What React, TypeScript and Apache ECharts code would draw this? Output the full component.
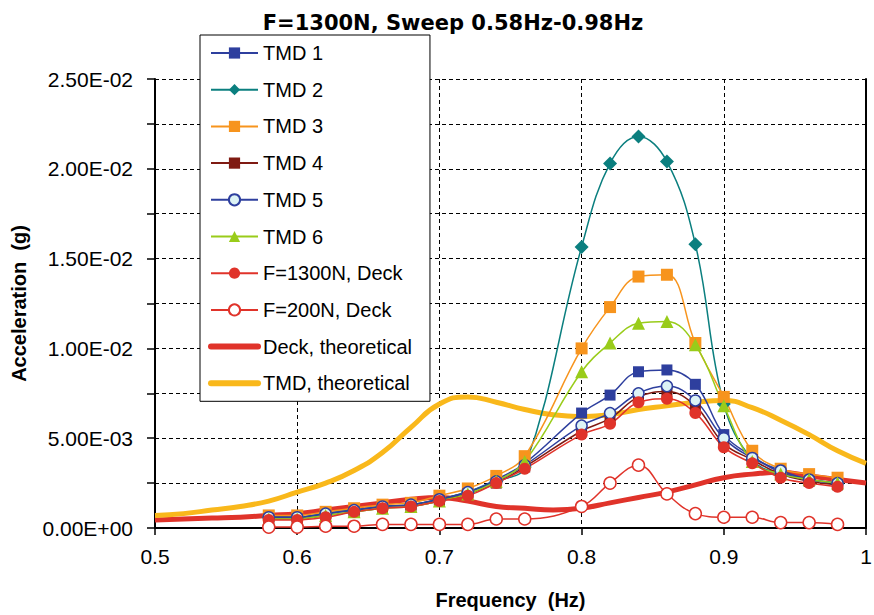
import React, { useEffect, useRef } from "react";
import * as echarts from "echarts";

const freq = [0.58, 0.6, 0.62, 0.64, 0.66, 0.68, 0.7, 0.72, 0.74, 0.76, 0.8, 0.82, 0.84, 0.86, 0.88, 0.9, 0.92, 0.94, 0.96, 0.98];

const tmd1 = [0.0006, 0.0006, 0.0008, 0.001, 0.0012, 0.0013, 0.0016, 0.002, 0.0027, 0.0036, 0.0064, 0.0074, 0.0087, 0.0088, 0.008, 0.0052, 0.004, 0.0031, 0.0027, 0.0025];
const tmd2 = [0.0006, 0.0006, 0.0008, 0.001, 0.0012, 0.0013, 0.0016, 0.002, 0.0026, 0.0034, 0.01565, 0.0203, 0.0218, 0.0204, 0.0158, 0.0069, 0.0038, 0.003, 0.0027, 0.0025];
const tmd3 = [0.0007, 0.0007, 0.0009, 0.0011, 0.0013, 0.0014, 0.0018, 0.0022, 0.0029, 0.004, 0.01, 0.0123, 0.014, 0.0141, 0.0103, 0.0073, 0.0043, 0.0033, 0.003, 0.0028];
const tmd4 = [0.0005, 0.0005, 0.0007, 0.0009, 0.0011, 0.0012, 0.0015, 0.0019, 0.0025, 0.0034, 0.0054, 0.0061, 0.0073, 0.0076, 0.0068, 0.0047, 0.0038, 0.003, 0.0026, 0.0024];
const tmd5 = [0.0006, 0.0006, 0.0008, 0.001, 0.0012, 0.0013, 0.0016, 0.002, 0.0026, 0.0035, 0.0057, 0.0064, 0.0075, 0.0079, 0.0071, 0.005, 0.0039, 0.0032, 0.0027, 0.0025];
const tmd6 = [0.0005, 0.0005, 0.0007, 0.0009, 0.0011, 0.0012, 0.0015, 0.0019, 0.0026, 0.0037, 0.0087, 0.0103, 0.0114, 0.0115, 0.0102, 0.0068, 0.0037, 0.003, 0.0027, 0.0025];
const deck1300 = [0.00045, 0.00045, 0.0006, 0.0009, 0.0011, 0.0012, 0.0015, 0.0018, 0.0025, 0.0033, 0.0052, 0.0058, 0.007, 0.0072, 0.0064, 0.0045, 0.0036, 0.0028, 0.0025, 0.0023];
const deck200 = [0.00005, 0.00005, 0.0001, 0.0001, 0.0002, 0.0002, 0.0002, 0.0002, 0.0005, 0.0005, 0.0012, 0.0025, 0.0035, 0.0019, 0.0008, 0.0006, 0.0006, 0.0003, 0.0003, 0.0002];

const theoFreq = [0.5, 0.52, 0.54, 0.56, 0.58, 0.6, 0.62, 0.64, 0.66, 0.68, 0.7, 0.72, 0.74, 0.76, 0.78, 0.8, 0.82, 0.84, 0.86, 0.88, 0.9, 0.92, 0.94, 0.96, 0.98, 1.0];
const deckTheo = [0.00045, 0.0005, 0.00055, 0.0006, 0.0007, 0.0008, 0.001, 0.0012, 0.0014, 0.0016, 0.0017, 0.0015, 0.0012, 0.0011, 0.001, 0.0011, 0.0014, 0.0017, 0.002, 0.0024, 0.0028, 0.003, 0.0031, 0.0029, 0.0027, 0.0025];
const tmdTheo = [0.0007, 0.0008, 0.001, 0.0012, 0.0015, 0.002, 0.0025, 0.0032, 0.0042, 0.0056, 0.0069, 0.0073, 0.007, 0.0066, 0.0063, 0.0062, 0.0063, 0.0066, 0.0068, 0.007, 0.0071, 0.0067, 0.006, 0.0052, 0.0043, 0.0036];

const seriesNames = ["TMD 1", "TMD 2", "TMD 3", "TMD 4", "TMD 5", "TMD 6", "F=1300N, Deck", "F=200N, Deck", "Deck, theoretical", "TMD, theoretical"];

const FONT = "'Liberation Sans', Arial, sans-serif";
const TITLE_FONT = "'DejaVu Sans', 'Liberation Sans', sans-serif";

function fmtSci(v: number): string {
  if (Math.abs(v) < 1e-12) return "0.00E+00";
  let e = Math.floor(Math.log10(Math.abs(v)) + 1e-9);
  let m = v / Math.pow(10, e);
  if (Math.round(m * 100) >= 1000) { m /= 10; e += 1; }
  const ae = Math.abs(e);
  return m.toFixed(2) + "E" + (e < 0 ? "-" : "+") + (ae < 10 ? "0" : "") + ae;
}

const pair = (xs: number[], ys: number[]) => xs.map((x, i) => [x, ys[i]]);

export default function App() {
  const ref = useRef<HTMLDivElement>(null);
  useEffect(() => {
    if (!ref.current) return;
    const chart = echarts.init(ref.current, undefined, { renderer: "svg" });
    const dataSeries = (name: string, ys: number[], color: string, symbol: string, size: number) => ({
      name,
      type: "line",
      data: pair(freq, ys),
      smooth: 0.4,
      symbol,
      symbolSize: size,
      showSymbol: true,
      lineStyle: { color, width: 1.5 },
      itemStyle: { color },
      z: 3,
    });
    chart.setOption({
      animation: false,
      title: {
        text: "F=1300N, Sweep 0.58Hz-0.98Hz",
        left: 448,
        textAlign: "center",
        top: 7,
        textStyle: { fontFamily: TITLE_FONT, fontSize: 21, fontWeight: "bold", color: "#000" },
      },
      grid: { left: 155, right: 8, top: 79, bottom: 87, outerBoundsMode: "none", containLabel: false },
      legend: {
        orient: "vertical",
        left: 200,
        top: 35,
        itemWidth: 47,
        itemHeight: 14,
        itemGap: 16.7,
        padding: [8, 18, 8, 8],
        backgroundColor: "#fff",
        borderColor: "#000",
        borderWidth: 1,
        textStyle: { fontFamily: FONT, fontSize: 20, color: "#000", lineHeight: 20 },
        z: 10,
        data: seriesNames.map((n, i) =>
          i >= 8 ? { name: n, lineStyle: { width: 6, cap: "round" }, itemStyle: { opacity: 0 } } : { name: n }
        ),
      },
      xAxis: {
        type: "value",
        min: 0.5,
        max: 1.0,
        interval: 0.1,
        name: "Frequency  (Hz)",
        nameLocation: "middle",
        nameGap: 62,
        nameTextStyle: { fontFamily: FONT, fontSize: 20, fontWeight: "bold", color: "#000" },
        axisLine: { lineStyle: { color: "#000", width: 2 } },
        axisTick: { show: true, length: 7, lineStyle: { color: "#000", width: 1.5 } },
        axisLabel: { fontFamily: FONT, fontSize: 21, color: "#000", margin: 18 },
        splitLine: { show: true, lineStyle: { color: "#000", type: [4, 3], width: 1 } },
      },
      yAxis: [
        {
          type: "value",
          min: 0,
          max: 0.025,
          interval: 0.0025,
          name: "Acceleration  (g)",
          nameLocation: "middle",
          nameGap: 126,
          nameRotate: 90,
          nameTextStyle: { fontFamily: FONT, fontSize: 20, fontWeight: "bold", color: "#000" },
          axisLine: { show: true, lineStyle: { color: "#000", width: 2 } },
          axisTick: { show: true, length: 8, lineStyle: { color: "#000", width: 1.5 } },
          axisLabel: {
            fontFamily: FONT,
            fontSize: 21,
            color: "#000",
            margin: 22,
            formatter: (v: number) => (Math.round(v / 0.0025) % 2 === 0 ? fmtSci(v) : ""),
          },
          splitLine: { show: true, lineStyle: { color: "#000", type: [4, 3], width: 1 } },
        },
        {
          type: "value",
          position: "right",
          min: 0,
          max: 0.025,
          interval: 0.0025,
          axisLine: { show: true, lineStyle: { color: "#000", width: 2 } },
          axisTick: { show: false },
          axisLabel: { show: false },
          splitLine: { show: false },
        },
      ],
      series: [
        dataSeries(seriesNames[0], tmd1, "#2E3F9E", "rect", 11),
        dataSeries(seriesNames[1], tmd2, "#0B7F7F", "diamond", 14),
        dataSeries(seriesNames[2], tmd3, "#F7941D", "rect", 12),
        dataSeries(seriesNames[3], tmd4, "#7F1A12", "rect", 11),
        {
          ...dataSeries(seriesNames[4], tmd5, "#2E3F9E", "circle", 11),
          itemStyle: { color: "#DDF3F5", borderColor: "#2E3F9E", borderWidth: 1.5 },
        },
        dataSeries(seriesNames[5], tmd6, "#99CC1A", "triangle", 13),
        dataSeries(seriesNames[6], deck1300, "#E0332A", "circle", 12),
        {
          ...dataSeries(seriesNames[7], deck200, "#E0332A", "circle", 12),
          itemStyle: { color: "#fff", borderColor: "#E0332A", borderWidth: 1.5 },
        },
        {
          name: seriesNames[8],
          type: "line",
          data: pair(theoFreq, deckTheo),
          smooth: 0.5,
          symbol: "none",
          lineStyle: { color: "#E0332A", width: 5 },
          itemStyle: { color: "#E0332A", opacity: 0 },
          z: 2,
        },
        {
          name: seriesNames[9],
          type: "line",
          data: pair(theoFreq, tmdTheo),
          smooth: 0.5,
          symbol: "none",
          lineStyle: { color: "#F9B81B", width: 5 },
          itemStyle: { color: "#F9B81B", opacity: 0 },
          z: 2,
        },
      ],
    });
    return () => chart.dispose();
  }, []);
  return <div ref={ref} style={{ width: 874, height: 615, position: "absolute", left: 0, top: 0, background: "#fff" }} />;
}
